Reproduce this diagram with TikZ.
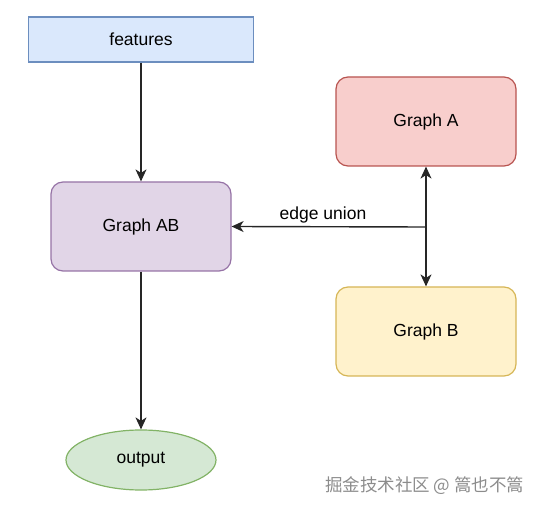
\documentclass[tikz,border=0pt]{standalone}
\usepackage{fontspec}
\setmainfont{Liberation Sans}
\newfontfamily\cjk{Noto Sans CJK SC}
\usetikzlibrary{arrows.meta,shapes.geometric}
\definecolor{fblue}{HTML}{DAE8FC}\definecolor{sblue}{HTML}{6C8EBF}
\definecolor{fpurple}{HTML}{E1D5E7}\definecolor{spurple}{HTML}{9673A6}
\definecolor{fred}{HTML}{F8CECC}\definecolor{sred}{HTML}{B85450}
\definecolor{fyellow}{HTML}{FFF2CC}\definecolor{syellow}{HTML}{D6B656}
\definecolor{fgreen}{HTML}{D5E8D4}\definecolor{sgreen}{HTML}{82B366}
\tikzset{
  box/.style={draw, line width=1.2pt, minimum width=180pt, minimum height=89pt, rounded corners=12pt, font=\fontsize{17.5}{20}\selectfont, inner sep=0pt},
  conn/.style={line width=1.4pt, draw=black!85, -{Stealth[length=12pt,width=11pt,inset=3.5pt]}},
}
\begin{document}
\begin{tikzpicture}[x=1pt,y=-1pt]
\useasboundingbox (0,0) rectangle (541,510);
\node[box, rounded corners=0pt, minimum width=225pt, minimum height=45pt, fill=fblue, draw=sblue] (feat) at (141,39.5) {features};
\node[box, fill=fpurple, draw=spurple] (ab) at (141,226.5) {Graph AB};
\node[box, fill=fred, draw=sred] (ga) at (426,121.5) {Graph A};
\node[box, fill=fyellow, draw=syellow] (gb) at (426,331.5) {Graph B};
\node[ellipse, draw=sgreen, fill=fgreen, line width=1.2pt, minimum width=150pt, minimum height=60pt, inner sep=0pt, font=\fontsize{17.5}{20}\selectfont] (out) at (141,460) {output};
\coordinate (j) at (426,227);
\draw[conn] (feat.south) -- (ab.north);
\draw[conn] (ab.south) -- (out.north);
\draw[conn] (j) -- (ga.south);
\draw[conn] (j) -- (gb.north);
\draw[conn] (j) -- (ab.east) node[pos=0.53, above=2pt, font=\fontsize{17.5}{20}\selectfont, fill=white, inner sep=1pt] (lbl) {edge union};
\node[anchor=east, text=black!45, font=\cjk\fontsize{17.5}{20}\selectfont] (wm) at (528,486) {掘金技术社区 @ 篙也不篙};
\end{tikzpicture}
\end{document}
